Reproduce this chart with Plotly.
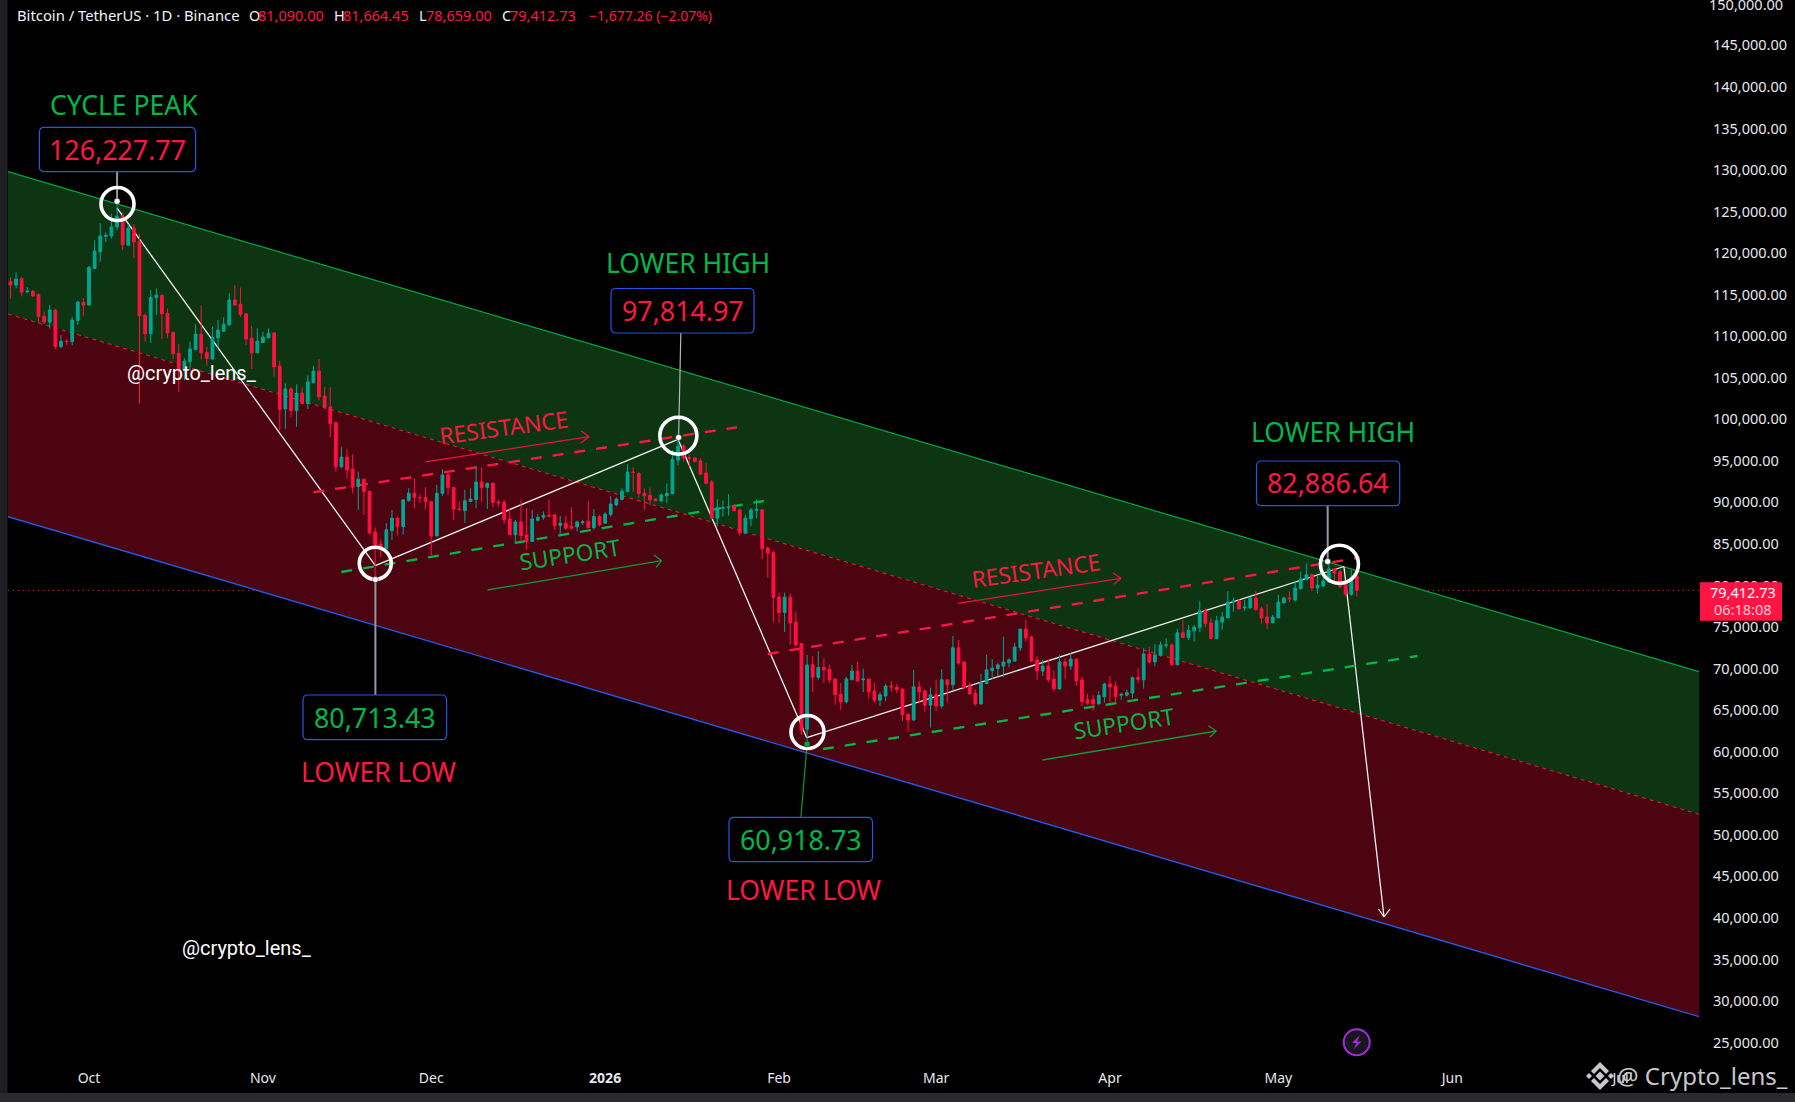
import pandas as pd
import plotly.graph_objects as go

# ---------- data (prices in thousands of USDT, one candle per day from 2025-09-17) ----------
first_day = "2025-09-17"
open_k = [116.6,116.15,116.9,115.35,115.4,115.0,112.4,111.7,113.15,108.75,109.4,109.35,111.9,114.05,113.75,118.15,120.15,122.0,122.05,123.15,
124.45,120.95,123.0,121.4,112.5,110.3,114.65,114.9,112.75,110.45,107.95,105.95,106.95,108.4,110.25,108.05,107.25,109.8,110.6,111.35,
114.35,113.85,112.7,109.75,108.0,109.25,109.8,110.4,106.4,101.25,103.65,101.05,103.15,101.9,104.4,105.8,102.8,101.5,99.6,94.3,
95.45,94.0,91.9,92.8,91.35,86.45,85.0,84.4,86.6,88.1,87.1,90.2,91.1,90.6,90.6,90.1,85.95,91.1,93.3,91.8,
89.2,89.0,90.1,90.35,92.45,91.8,92.3,90.05,90.0,88.0,86.1,87.65,86.1,85.3,87.85,88.2,88.45,88.5,87.25,87.5,
87.15,87.05,87.55,87.73,86.96,88.3,87.5,88.55,89.7,90.35,91.3,93.65,93.5,91.1,90.85,90.4,90.2,90.8,91.05,95.1,
96.8,95.4,95.35,95.0,93.55,92.45,88.1,89.3,89.35,89.55,89.1,86.3,88.05,89.05,89.1,84.5,84.0,78.6,76.75,78.6,
75.6,73.0,62.7,70.45,68.95,70.15,69.9,68.75,66.9,66.0,68.65,69.7,68.65,68.75,67.3,66.2,66.7,67.9,67.75,67.55,
64.5,63.8,67.8,67.3,65.6,66.85,65.5,68.65,68.05,72.5,70.8,67.9,67.05,65.75,68.2,69.75,70.0,70.3,70.7,70.9,
72.5,74.75,73.8,71.05,69.7,70.3,68.75,67.55,70.8,70.3,71.15,68.65,66.25,66.3,65.75,66.6,68.15,67.9,66.8,66.8,
67.05,68.95,68.65,71.75,70.8,71.6,72.8,72.85,70.45,74.3,73.75,74.55,74.95,76.95,75.5,73.6,75.6,76.1,78.0,78.15,
77.3,77.3,78.5,77.2,76.2,75.5,76.1,77.9,78.5,78.25,79.6,80.7,81.3,79.7,79.95,80.45,82.0,81.65,80.3,78.95,81.09]
high_k = [117.1,117.68,117.1,115.9,115.55,115.15,112.95,113.75,113.3,110.15,109.6,112.3,114.25,114.6,118.45,121.55,123.6,122.5,124.75,126.228,
124.85,123.5,123.5,122.35,112.75,115.55,115.75,115.05,113.35,110.55,109.05,107.35,109.35,111.45,113.7,108.75,111.15,111.95,112.25,115.15,
116.15,115.85,112.75,111.25,110.95,110.55,110.95,110.4,107.05,104.3,103.9,104.2,103.9,105.3,106.45,107.25,103.9,103.85,99.7,96.7,
96.4,95.8,93.7,92.8,91.35,87.0,85.5,87.5,89.1,88.3,90.4,91.7,92.9,91.0,91.8,90.2,92.1,94.0,93.8,91.8,
90.1,91.5,91.7,94.4,94.2,92.4,92.4,90.3,90.3,89.3,87.9,90.3,89.3,89.1,88.6,88.9,90.35,88.6,88.35,88.35,
89.4,87.8,87.9,90.17,89.2,88.5,88.8,90.8,90.6,91.7,94.6,94.2,93.6,91.7,91.8,90.5,91.1,92.3,96.3,97.815,
97.0,95.7,95.45,95.3,94.7,92.7,90.4,90.2,91.0,89.8,89.2,88.5,89.3,90.35,89.2,84.7,84.1,79.15,79.15,79.05,
76.85,73.05,71.65,71.5,72.1,71.25,70.45,68.8,68.25,69.0,70.45,70.8,70.0,68.75,68.25,67.15,68.15,68.5,68.15,67.55,
64.6,69.85,68.45,67.5,67.7,68.65,69.9,68.65,73.95,73.45,70.8,68.35,67.5,69.35,71.65,71.15,70.7,73.85,71.25,73.1,
74.75,75.85,73.95,71.5,71.1,71.05,69.75,71.65,71.25,71.85,71.15,69.05,66.95,66.85,67.25,68.3,69.1,68.45,67.1,67.45,
69.05,70.05,72.45,72.65,72.95,73.25,73.65,73.05,74.75,75.85,75.25,75.25,78.15,77.25,76.05,76.35,76.85,79.3,78.55,78.4,
78.25,78.65,79.3,77.45,77.8,76.45,78.9,78.65,79.3,80.45,81.65,82.65,81.45,81.15,81.05,82.887,82.1,81.8,80.65,81.9,81.664]
low_k = [114.5,115.75,114.8,115.15,114.75,111.55,111.45,110.9,108.45,108.55,108.95,108.9,111.35,112.45,113.7,118.05,118.95,121.35,121.75,122.75,
120.35,120.9,119.4,101.9,109.35,109.2,112.55,109.65,109.75,107.25,103.3,104.7,105.9,108.35,107.2,106.45,107.2,108.55,110.55,111.3,
113.65,112.35,108.95,106.05,107.95,109.15,109.75,105.15,98.7,98.85,100.25,99.1,101.9,101.25,104.3,102.3,101.25,97.85,93.7,94.1,
92.9,91.1,89.1,88.5,86.1,80.713,83.4,84.35,85.5,86.0,86.1,90.1,89.3,89.9,89.1,83.65,85.95,90.8,90.9,87.9,
89.0,87.55,90.1,89.3,90.1,89.2,89.4,89.5,87.4,86.1,85.0,85.4,84.3,85.2,87.7,87.9,88.2,86.7,86.1,86.7,
86.7,86.5,87.3,86.9,86.7,87.1,87.4,88.3,89.55,90.3,91.2,91.3,90.5,89.1,89.6,90.1,90.0,89.9,91.0,94.45,
94.9,94.3,94.85,93.4,92.2,88.0,87.1,88.3,88.4,88.95,86.0,86.3,87.15,88.1,83.2,80.95,75.65,75.45,74.4,72.85,
72.7,62.0,60.919,67.2,68.65,68.25,68.25,65.65,65.0,65.8,68.65,68.5,67.15,66.4,65.9,65.5,66.1,67.2,67.05,63.7,
62.4,63.8,65.8,64.8,62.9,64.9,65.2,66.0,67.35,70.45,67.5,66.95,65.55,65.65,68.1,68.75,69.05,68.95,70.15,70.85,
72.1,73.25,70.9,68.65,69.1,68.35,67.25,67.45,68.75,69.85,67.9,65.45,65.65,64.95,65.65,65.9,65.9,66.0,66.25,66.65,
66.45,68.25,67.6,70.65,70.3,71.45,72.45,70.4,70.45,73.75,73.45,73.25,74.4,74.95,73.6,73.6,74.65,76.1,76.85,77.05,
76.95,77.25,77.0,75.4,74.75,75.45,76.1,77.85,78.0,78.05,79.6,80.7,79.35,79.05,79.85,80.35,80.3,79.7,78.65,78.75,78.659]
close_k = [116.15,116.88,115.3,115.43,114.85,112.35,111.7,113.15,108.75,109.4,109.35,111.95,114.1,113.75,118.3,120.25,122.05,122.15,123.15,124.45,
121.0,123.0,121.35,112.45,110.3,114.65,114.95,112.7,110.4,107.9,105.95,107.0,108.45,110.25,108.0,107.3,109.85,110.75,111.45,114.35,
113.75,112.65,109.65,108.0,109.4,109.9,110.35,106.3,101.2,103.65,101.05,103.15,101.9,104.5,105.8,102.7,101.45,99.45,94.3,95.45,
93.9,91.85,92.8,91.3,86.35,84.9,84.4,86.7,88.1,87.1,90.3,91.1,90.6,90.55,90.1,85.95,91.1,93.3,91.8,89.2,
89.15,90.2,90.4,92.45,91.8,92.3,90.0,89.95,87.9,86.1,87.65,86.0,85.3,88.0,88.2,88.45,88.35,87.2,87.5,86.9,
86.9,87.65,87.65,86.96,88.3,87.3,88.6,89.8,90.4,91.35,93.65,93.6,91.05,90.8,90.3,90.2,90.9,91.1,95.2,96.8,
95.35,95.3,94.9,93.4,92.3,88.1,89.35,89.35,89.45,89.0,86.35,88.1,89.1,89.15,84.45,83.9,78.55,76.75,78.6,75.5,
72.85,62.6,70.44,68.95,70.15,69.85,68.65,66.85,66.0,68.75,69.7,68.5,68.75,67.2,66.2,66.85,67.9,67.8,67.45,64.45,
63.8,67.8,67.2,65.6,66.85,65.5,68.65,68.05,72.5,70.65,67.7,66.95,65.75,68.3,69.85,70.05,70.45,70.8,71.05,72.6,
74.75,73.7,70.9,69.7,70.3,68.65,67.55,70.8,70.3,71.15,68.5,66.05,65.85,65.75,66.75,68.15,67.8,66.65,66.9,67.1,
68.9,68.7,71.75,70.8,71.65,72.85,72.85,70.45,74.3,73.75,74.6,75.0,76.95,75.4,73.6,75.75,76.2,78.0,78.1,77.2,
77.4,78.5,77.1,76.1,75.5,76.2,78.0,78.5,78.4,79.7,80.8,81.3,79.7,80.05,80.55,82.0,81.5,79.85,78.95,80.9,79.413]

month_days = ["2025-10-01","2025-11-01","2025-12-01","2026-01-01","2026-02-01","2026-03-01","2026-04-01","2026-05-01","2026-06-01","2026-07-01"]
month_labels = ["Oct","Nov","Dec","<b>2026</b>","Feb","Mar","Apr","May","Jun","Jul"]
price_ticks = list(range(25000, 145001, 5000))
top_tick_label = "150,000.00"

# channel edges: days since 2025-10-01 and prices at the two ends
channel_days = [-14.44, 286.99]
channel_top = [129796, 69626]
channel_mid = [112672, 52466]
channel_bottom = [88279, 28109]

zigzag_days = [4.99, 51.05, 104.99, 127.93, 223.7, 230.84]
zigzag_prices = [125428, 82382, 97593, 61684, 82286, 40106]
zigzag_head_days = [229.86, 230.84, 231.91]
zigzag_head_prices = [41069, 40106, 41069]

resistance_days = [[40.0, 115.5], [120.98, 226.52]]
resistance_prices = [[91215, 99037], [71756, 83345]]
support_days = [[44.97, 120.29], [130.84, 236.79]]
support_prices = [[81624, 90168], [60323, 71516]]

# small arrows: start, tip, and the two barbs
res_arrow_days = [[59.98, 89.13, 87.75, 87.61], [154.88, 183.94, 182.5, 182.7]]
res_arrow_prices = [[94874, 97906, 98592, 97112], [77858, 80866, 81540, 80144]]
sup_arrow_days = [[71.03, 102.07, 100.71, 101.07], [169.94, 200.93, 199.55, 199.77]]
sup_arrow_prices = [[79458, 82984, 83670, 82190], [59000, 62490, 63128, 61732]]

pivot_circle_days = [5.08, 51.03, 105.05, 128.07, 222.9]
pivot_circle_prices = [125909, 82671, 98026, 62369, 82551]
pivot_circle_sizes = [33, 32, 37, 33, 38]
pivot_days = [5.0, 51.05, 105.1, 128.0, 220.8]
pivot_prices = [126227.77, 80713.43, 97814.97, 60918.73, 82886.64]
pivot_colors = ["white", "white", "white", "#00a63e", "white"]
leader_days = [[5.0, 5.0], [51.05, 51.05], [105.5, 105.1], [126.9, 128.0], [220.8, 220.8]]
leader_prices = [[129760, 126228], [66835, 80713], [110505, 97815], [52140, 60919], [89603, 82887]]
leader_colors = ["#9598a1", "#9598a1", "#b2b5be", "#0b9a3c", "#9598a1"]
last_close = 79412.73

# ---------- styling ----------
W, H = 1795, 1102
PL, PR, PB = 8, 1699, 1055
RED, GREEN = "#ff1744", "#00b84a"
UP, DOWN = "#00a693", "#ff1040"
FONT = "Noto Sans"
base = pd.Timestamp("2025-10-01")

def day(d):
    return (base + pd.Timedelta(days=d)).strftime("%Y-%m-%d %H:%M:%S")

def xp(px):
    return (px - PL) / (PR - PL)

def yp(py):
    return 1 - py / PB

def line(d0, p0, d1, p1, color, width=1.0, dash="solid", layer="below"):
    return dict(type="line", xref="x", yref="y", x0=day(d0), y0=p0, x1=day(d1), y1=p1,
                line=dict(color=color, width=width, dash=dash), layer=layer)

def poly_path(pts):
    return "M" + " L".join(f"{xp(a):.5f},{yp(b):.5f}" for a, b in pts) + " Z"

def rbox(x0, y0, x1, y1, r=5):
    c = lambda a, b: f"{xp(a):.5f},{yp(b):.5f}"
    return ("M" + c(x0 + r, y0) + " L" + c(x1 - r, y0) + " Q" + c(x1, y0) + " " + c(x1, y0 + r) +
            " L" + c(x1, y1 - r) + " Q" + c(x1, y1) + " " + c(x1 - r, y1) +
            " L" + c(x0 + r, y1) + " Q" + c(x0, y1) + " " + c(x0, y1 - r) +
            " L" + c(x0, y0 + r) + " Q" + c(x0, y0) + " " + c(x0 + r, y0) + " Z")

shapes = []
# channel fills
fill_path = lambda upper, lower: ("M{} {} L{} {} L{} {} L{} {} Z".format(
    day(channel_days[0]).replace(" ", "_"), upper[0],
    day(channel_days[1]).replace(" ", "_"), upper[1],
    day(channel_days[1]).replace(" ", "_"), lower[1],
    day(channel_days[0]).replace(" ", "_"), lower[0]))
shapes.append(dict(type="path", xref="x", yref="y", path=fill_path(channel_top, channel_mid),
                   fillcolor="#0e3512", line=dict(width=0), layer="below"))
shapes.append(dict(type="path", xref="x", yref="y", path=fill_path(channel_mid, channel_bottom),
                   fillcolor="#4d0411", line=dict(width=0), layer="below"))
shapes.append(line(channel_days[0], channel_top[0], channel_days[1], channel_top[1], "#00a83e", 1.2))
shapes.append(line(channel_days[0], channel_mid[0], channel_days[1], channel_mid[1], RED, 1.0, "4px,4px"))
shapes.append(line(channel_days[0], channel_bottom[0], channel_days[1], channel_bottom[1], "#1f5ce8", 1.4))

# last price line
shapes.append(dict(type="line", xref="paper", yref="y", x0=0, x1=1, y0=last_close, y1=last_close,
                   line=dict(color=RED, width=1, dash="1px,4px"), layer="below"))

# zigzag and leaders under the candles
for i in range(len(zigzag_days) - 1):
    shapes.append(line(zigzag_days[i], zigzag_prices[i], zigzag_days[i + 1], zigzag_prices[i + 1], "#f2f2f2", 1.3))
shapes.append(line(zigzag_head_days[0], zigzag_head_prices[0], zigzag_head_days[1], zigzag_head_prices[1], "#f2f2f2", 1.2))
shapes.append(line(zigzag_head_days[1], zigzag_head_prices[1], zigzag_head_days[2], zigzag_head_prices[2], "#f2f2f2", 1.2))
for ds, ps, col in zip(leader_days, leader_prices, leader_colors):
    shapes.append(line(ds[0], ps[0], ds[1], ps[1], col, 2 if col == "#9598a1" else 1.2))

for ds, ps in zip(resistance_days, resistance_prices):
    shapes.append(line(ds[0], ps[0], ds[1], ps[1], RED, 2.3, "11px,11px"))
for ds, ps in zip(support_days, support_prices):
    shapes.append(line(ds[0], ps[0], ds[1], ps[1], GREEN, 2.3, "11px,11px"))

for group, days_, prices_, col in ((0, res_arrow_days, res_arrow_prices, "#e8143c"), (1, sup_arrow_days, sup_arrow_prices, "#0f9a3c")):
    for ds, ps in zip(days_, prices_):
        shapes.append(line(ds[0], ps[0], ds[1], ps[1], col, 1.3))
        shapes.append(line(ds[2], ps[2], ds[1], ps[1], col, 1.3))
        shapes.append(line(ds[3], ps[3], ds[1], ps[1], col, 1.3))

# label boxes
for box in ((39.4, 127.3, 195.6, 171.7), (611, 288.5, 754, 333), (1256.5, 461, 1399.7, 505.7),
            (303, 695, 446.6, 739.7), (729, 817.3, 872.5, 861.7)):
    shapes.append(dict(type="path", xref="paper", yref="paper", path=rbox(*box), fillcolor="#000000",
                       line=dict(color="#2456e6", width=1.2), layer="above"))

# page furniture
shapes.append(dict(type="rect", xref="paper", yref="paper", x0=xp(0), x1=xp(7.5), y0=yp(0), y1=yp(H),
                   fillcolor="#1f1f23", line=dict(width=0), layer="above"))
shapes.append(dict(type="rect", xref="paper", yref="paper", x0=xp(0), x1=xp(W), y0=yp(1093), y1=yp(H),
                   fillcolor="#2a2a2e", line=dict(width=0), layer="above"))
shapes.append(dict(type="rect", xref="paper", yref="paper", x0=xp(1700), x1=xp(1782), y0=yp(582.3), y1=yp(620.7),
                   fillcolor="#ff1444", line=dict(width=0), layer="above"))
# lightning badge
shapes.append(dict(type="circle", xref="paper", yref="paper", x0=xp(1343.7), x1=xp(1369.7), y0=yp(1029.3), y1=yp(1055.3),
                   fillcolor="#17171c", line=dict(color="#a52be0", width=2), layer="above"))
shapes.append(dict(type="path", xref="paper", yref="paper",
                   path=poly_path([(1360, 1035), (1352, 1043), (1356.5, 1043), (1353.5, 1049.5), (1361.5, 1041.5), (1357, 1041.5)]),
                   fillcolor="#a52be0", line=dict(width=0), layer="above"))
# exchange logo in the watermark
LOGO = "#c8c8cc"
for pts in ([(1600, 1062), (1609, 1071), (1606, 1074), (1600, 1068), (1594, 1074), (1591, 1071)],
            [(1600, 1090), (1609, 1081), (1606, 1078), (1600, 1084), (1594, 1078), (1591, 1081)],
            [(1600, 1071.5), (1604.5, 1076), (1600, 1080.5), (1595.5, 1076)],
            [(1589, 1073), (1592, 1076), (1589, 1079), (1586, 1076)],
            [(1611, 1073), (1614, 1076), (1611, 1079), (1608, 1076)]):
    shapes.append(dict(type="path", xref="paper", yref="paper", path=poly_path(pts),
                       fillcolor=LOGO, line=dict(width=0), layer="above"))

def text(px, py, s, color, size, anchor="center", angle=0, font=FONT):
    return dict(xref="paper", yref="paper", x=xp(px), y=yp(py), text=s, showarrow=False, xanchor=anchor,
                yanchor="middle", textangle=angle, font=dict(family=font, size=size, color=color))

ann = [
    text(124.4, 105, "CYCLE PEAK", GREEN, 26.5),
    text(117.5, 149.5, "126,227.77", RED, 26.8),
    text(688, 263, "LOWER HIGH", GREEN, 26.5),
    text(682.5, 310.5, "97,814.97", RED, 26.8),
    text(1333, 432, "LOWER HIGH", GREEN, 26.5),
    text(1328, 483, "82,886.64", RED, 26.8),
    text(375, 717, "80,713.43", GREEN, 26.8),
    text(378, 771.7, "LOWER LOW", RED, 26.5),
    text(800.7, 839.5, "60,918.73", GREEN, 26.8),
    text(803.6, 889.5, "LOWER LOW", RED, 26.5),
    text(503.5, 428, "RESISTANCE", RED, 22.8, angle=-7.7),
    text(570, 554, "SUPPORT", GREEN, 22.8, angle=-8.7),
    text(1036, 570, "RESISTANCE", RED, 22.8, angle=-8),
    text(1123.6, 723, "SUPPORT", GREEN, 22.8, angle=-8.7),
    text(191, 373, "@crypto_lens_", "#ffffff", 20, font="Roboto"),
    text(246, 948, "@crypto_lens_", "#ffffff", 20, font="Roboto"),
    text(1743, 591.7, "79,412.73", "#ffffff", 14.5),
    text(1743, 609.3, "06:18:08", "#ffc9d4", 14.5),
    text(1615, 1075, "@ Crypto_lens_", "#c8c8cc", 24, anchor="left"),
    text(1707, 4, top_tick_label, "#e6e8ee", 14.5, anchor="left"),
    text(15, 15, "Bitcoin / TetherUS · 1D · Binance", "#f0f3fa", 14.8, anchor="left"),
]
for (lab_x, lab, val_x, val) in ((246.5, "O", 255.5, "81,090.00"), (332, "H", 341, "81,664.45"),
                                 (417, "L", 424, "78,659.00"), (499.5, "C", 508, "79,412.73")):
    ann.append(text(lab_x, 15, lab, "#f0f3fa", 14.5, anchor="left"))
    ann.append(text(val_x, 15, val, RED, 14.5, anchor="left"))
ann.append(text(587, 15, "−1,677.26 (−2.07%)", RED, 14, anchor="left"))

dates = pd.date_range(first_day, periods=len(open_k), freq="D")
fig = go.Figure()
fig.add_trace(go.Candlestick(
    x=dates,
    open=[v * 1000 for v in open_k], high=[v * 1000 for v in high_k],
    low=[v * 1000 for v in low_k], close=[v * 1000 for v in close_k],
    increasing=dict(line=dict(color=UP, width=1), fillcolor=UP),
    decreasing=dict(line=dict(color=DOWN, width=1), fillcolor=DOWN),
    whiskerwidth=0, showlegend=False, hoverinfo="skip"))
fig.add_trace(go.Scatter(
    x=[day(d) for d in pivot_circle_days], y=pivot_circle_prices, mode="markers", showlegend=False, hoverinfo="skip",
    marker=dict(symbol="circle-open", size=pivot_circle_sizes, color="#ffffff", opacity=1, line=dict(color="#ffffff", width=3.6)),
    cliponaxis=False))
fig.add_trace(go.Scatter(
    x=[day(d) for d in pivot_days], y=pivot_prices, mode="markers", showlegend=False, hoverinfo="skip",
    marker=dict(symbol="circle", size=6, color=pivot_colors, line=dict(color="#222222", width=0.5)),
    cliponaxis=False))

y_top = 100000 + 419.3 * 120.34
y_bot = 100000 - (PB - 419.3) * 120.34
fig.update_layout(
    width=W, height=H, margin=dict(l=PL, r=W - PR, t=0, b=H - PB, pad=0),
    paper_bgcolor="#000000", plot_bgcolor="#000000", showlegend=False, hovermode=False,
    boxgap=0.3, shapes=shapes, annotations=ann,
    xaxis=dict(type="date", range=[day(channel_days[0]), day(channel_days[1])], rangeslider=dict(visible=False),
               tickmode="array", tickvals=month_days, ticktext=month_labels, showgrid=False, zeroline=False,
               showline=False, ticks="outside", ticklen=10, tickcolor="#000000",
               tickfont=dict(family=FONT, size=14, color="#e6e8ee")),
    yaxis=dict(side="right", range=[y_bot, y_top], tickmode="array", tickvals=price_ticks, tickformat=",.2f",
               showgrid=False, zeroline=False, showline=False, ticks="outside", ticklen=10, tickcolor="#000000",
               tickfont=dict(family=FONT, size=14.5, color="#e6e8ee")),
)
fig.write_html("out.html", config={"displayModeBar": False},
               post_script="document.body.style.margin='0';document.body.style.background='#000';")
